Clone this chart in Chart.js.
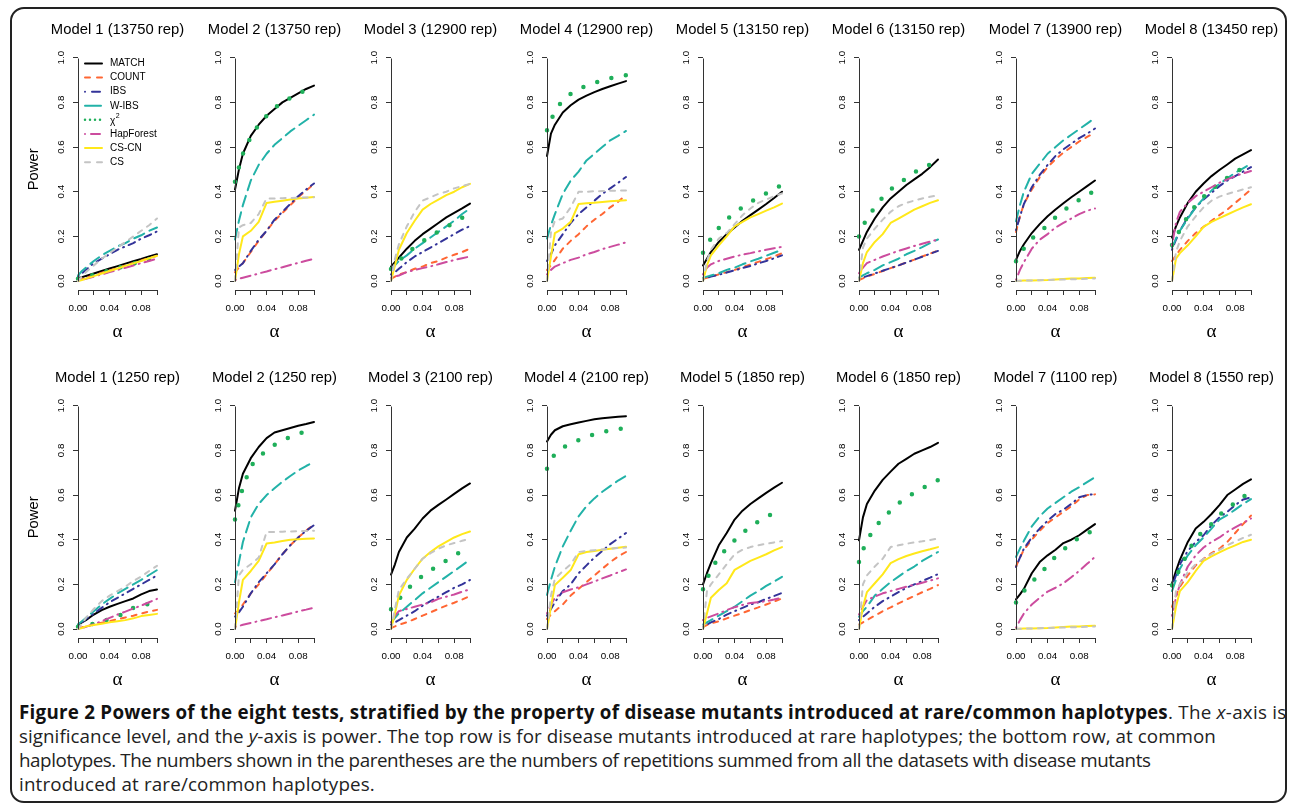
<!DOCTYPE html>
<html>
<head>
<meta charset="utf-8">
<script src="https://cdn.jsdelivr.net/npm/chart.js@4.4.1/dist/chart.umd.min.js"></script>
<style>
  body { margin: 0; background: #fff; width: 1290px; height: 807px; position: relative; overflow: hidden; }
  #frame { position: absolute; left: 10px; top: 7px; width: 1273px; height: 792px; border: 2px solid #222; border-radius: 14px; }
  canvas { position: absolute; }
  #caption { position: absolute; left: 19px; top: 700px; font-family: "Open Sans"; font-size: 18.8px; line-height: 24px; color: #222; white-space: nowrap; }
  #caption div { display: block; }
  #caption b { color: #111; }
</style>
</head>
<body>
<div id="frame"></div>
<div id="panels"></div>
<div id="caption">
<div style="letter-spacing:0.25px"><b>Figure 2 Powers of the eight tests, stratified by the property of disease mutants introduced at rare/common haplotypes</b>. The <i>x</i>-axis is</div>
<div style="letter-spacing:0.05px">significance level, and the <i>y</i>-axis is power. The top row is for disease mutants introduced at rare haplotypes; the bottom row, at common</div>
<div style="letter-spacing:-0.42px">haplotypes. The numbers shown in the parentheses are the numbers of repetitions summed from all the datasets with disease mutants</div>
<div style="letter-spacing:0.15px">introduced at rare/common haplotypes.</div>
</div>
<script>
// significance levels (x) shared by every curve
const alphas = [0, 0.005, 0.01, 0.02, 0.03, 0.04, 0.05, 0.06, 0.07, 0.08, 0.09, 0.1];
const methods = ["MATCH", "COUNT", "IBS", "W-IBS", "χ²", "HapForest", "CS-CN", "CS"];
const topReps = [13750, 13750, 12900, 12900, 13150, 13150, 13900, 13450];
const bottomReps = [1250, 1250, 2100, 2100, 1850, 1850, 1100, 1550];
const yTicks = [0, 0.2, 0.4, 0.6, 0.8, 1.0];
const xTicks = [0, 0.02, 0.04, 0.06, 0.08, 0.1];
const xLabels = ["0.00", "", "0.04", "", "0.08", ""];

/* top row: mutants at rare haplotypes, one inner array per model */
const matchTop = [
  [0.012, 0.017, 0.023, 0.034, 0.045, 0.056, 0.067, 0.078, 0.089, 0.099, 0.11, 0.12],
  [0.41, 0.50, 0.57, 0.65, 0.70, 0.74, 0.77, 0.80, 0.82, 0.84, 0.86, 0.875],
  [0.065, 0.085, 0.105, 0.145, 0.18, 0.21, 0.235, 0.26, 0.285, 0.305, 0.325, 0.347],
  [0.56, 0.66, 0.70, 0.755, 0.787, 0.812, 0.83, 0.846, 0.86, 0.872, 0.884, 0.895],
  [0.07, 0.10, 0.13, 0.175, 0.21, 0.24, 0.27, 0.295, 0.32, 0.345, 0.372, 0.40],
  [0.14, 0.18, 0.22, 0.28, 0.33, 0.37, 0.40, 0.43, 0.455, 0.48, 0.51, 0.544],
  [0.095, 0.135, 0.165, 0.215, 0.255, 0.29, 0.32, 0.348, 0.375, 0.40, 0.425, 0.45],
  [0.195, 0.245, 0.285, 0.35, 0.40, 0.437, 0.47, 0.497, 0.522, 0.548, 0.567, 0.586]
];
const countTop = [
  [0.005, 0.01, 0.015, 0.026, 0.037, 0.048, 0.059, 0.07, 0.081, 0.092, 0.103, 0.113],
  [0.04, 0.06, 0.08, 0.13, 0.18, 0.225, 0.27, 0.305, 0.34, 0.375, 0.405, 0.435],
  [0.01, 0.02, 0.03, 0.04, 0.055, 0.065, 0.08, 0.09, 0.105, 0.118, 0.13, 0.145],
  [0.05, 0.07, 0.095, 0.145, 0.18, 0.21, 0.245, 0.275, 0.30, 0.33, 0.355, 0.385],
  [0.01, 0.015, 0.02, 0.03, 0.04, 0.05, 0.062, 0.074, 0.086, 0.098, 0.11, 0.125],
  [0.005, 0.012, 0.02, 0.032, 0.045, 0.058, 0.07, 0.083, 0.096, 0.11, 0.123, 0.137],
  [0.22, 0.29, 0.345, 0.41, 0.465, 0.51, 0.545, 0.575, 0.60, 0.625, 0.645, 0.665],
  [0.09, 0.115, 0.14, 0.18, 0.215, 0.243, 0.27, 0.295, 0.32, 0.35, 0.38, 0.41]
];
const ibsTop = [
  [0.02, 0.035, 0.05, 0.08, 0.10, 0.12, 0.14, 0.155, 0.17, 0.19, 0.205, 0.222],
  [0.05, 0.065, 0.08, 0.135, 0.185, 0.225, 0.275, 0.31, 0.345, 0.38, 0.41, 0.437],
  [0.03, 0.04, 0.055, 0.085, 0.11, 0.13, 0.15, 0.17, 0.19, 0.21, 0.23, 0.246],
  [0.09, 0.12, 0.16, 0.21, 0.26, 0.30, 0.33, 0.36, 0.39, 0.415, 0.44, 0.466],
  [0.01, 0.015, 0.02, 0.028, 0.038, 0.048, 0.058, 0.068, 0.079, 0.09, 0.102, 0.115],
  [0.01, 0.016, 0.022, 0.034, 0.046, 0.058, 0.07, 0.083, 0.096, 0.109, 0.122, 0.135],
  [0.228, 0.29, 0.345, 0.42, 0.475, 0.52, 0.56, 0.59, 0.615, 0.64, 0.66, 0.683],
  [0.14, 0.185, 0.225, 0.285, 0.33, 0.365, 0.395, 0.425, 0.45, 0.47, 0.49, 0.51]
];
const wibsTop = [
  [0.025, 0.045, 0.06, 0.09, 0.115, 0.135, 0.155, 0.17, 0.19, 0.205, 0.225, 0.24],
  [0.186, 0.27, 0.34, 0.45, 0.52, 0.57, 0.61, 0.64, 0.67, 0.695, 0.72, 0.745],
  [0.05, 0.07, 0.09, 0.115, 0.145, 0.17, 0.195, 0.22, 0.245, 0.27, 0.30, 0.325],
  [0.19, 0.25, 0.30, 0.39, 0.45, 0.49, 0.54, 0.57, 0.60, 0.63, 0.65, 0.672],
  [0.015, 0.02, 0.025, 0.035, 0.05, 0.06, 0.075, 0.088, 0.10, 0.113, 0.127, 0.14],
  [0.015, 0.025, 0.035, 0.05, 0.07, 0.085, 0.10, 0.12, 0.135, 0.152, 0.17, 0.186],
  [0.268, 0.34, 0.40, 0.48, 0.525, 0.57, 0.60, 0.63, 0.655, 0.68, 0.705, 0.73],
  [0.15, 0.19, 0.225, 0.28, 0.33, 0.37, 0.405, 0.435, 0.46, 0.485, 0.505, 0.525]
];
const chiTop = [
  [0.01, 0.014, 0.018, 0.028, 0.038, 0.048, 0.058, 0.068, 0.078, 0.088, 0.098, 0.108],
  [0.445, 0.51, 0.57, 0.645, 0.70, 0.74, 0.775, 0.80, 0.82, 0.84, 0.855, 0.865],
  [0.054, 0.07, 0.09, 0.125, 0.152, 0.178, 0.20, 0.222, 0.242, 0.262, 0.283, 0.30],
  [0.675, 0.72, 0.76, 0.81, 0.838, 0.86, 0.874, 0.887, 0.898, 0.908, 0.915, 0.921],
  [0.127, 0.16, 0.19, 0.238, 0.275, 0.305, 0.33, 0.353, 0.374, 0.393, 0.412, 0.43],
  [0.20, 0.245, 0.28, 0.33, 0.375, 0.41, 0.437, 0.46, 0.486, 0.505, 0.522, 0.535],
  [0.089, 0.12, 0.146, 0.19, 0.22, 0.25, 0.285, 0.315, 0.34, 0.363, 0.385, 0.405],
  [0.161, 0.19, 0.23, 0.29, 0.34, 0.377, 0.41, 0.435, 0.463, 0.485, 0.508, 0.529]
];
const hapTop = [
  [0.002, 0.006, 0.01, 0.02, 0.03, 0.04, 0.05, 0.06, 0.07, 0.08, 0.09, 0.10],
  [0.005, 0.01, 0.015, 0.024, 0.034, 0.043, 0.053, 0.062, 0.072, 0.081, 0.091, 0.10],
  [0.015, 0.02, 0.025, 0.04, 0.05, 0.058, 0.066, 0.075, 0.085, 0.094, 0.102, 0.11],
  [0.03, 0.05, 0.065, 0.08, 0.095, 0.105, 0.12, 0.13, 0.143, 0.153, 0.163, 0.173],
  [0.03, 0.06, 0.075, 0.09, 0.10, 0.11, 0.118, 0.125, 0.133, 0.14, 0.147, 0.153],
  [0.035, 0.06, 0.08, 0.095, 0.11, 0.123, 0.135, 0.146, 0.157, 0.167, 0.177, 0.186],
  [0.005, 0.05, 0.085, 0.145, 0.185, 0.21, 0.24, 0.26, 0.28, 0.30, 0.315, 0.325],
  [0.16, 0.26, 0.31, 0.35, 0.38, 0.40, 0.42, 0.44, 0.455, 0.47, 0.482, 0.493]
];
const cscnTop = [
  [0, 0.005, 0.011, 0.022, 0.034, 0.045, 0.056, 0.068, 0.079, 0.09, 0.102, 0.113],
  [0, 0.12, 0.20, 0.225, 0.265, 0.35, 0.355, 0.36, 0.365, 0.37, 0.373, 0.376],
  [0, 0.07, 0.14, 0.215, 0.27, 0.32, 0.345, 0.365, 0.385, 0.40, 0.42, 0.435],
  [0, 0.11, 0.215, 0.235, 0.265, 0.345, 0.348, 0.351, 0.354, 0.357, 0.36, 0.362],
  [0, 0.07, 0.115, 0.16, 0.20, 0.245, 0.265, 0.285, 0.30, 0.315, 0.33, 0.347],
  [0, 0.08, 0.13, 0.175, 0.21, 0.26, 0.28, 0.30, 0.32, 0.335, 0.35, 0.362],
  [0, 0.001, 0.002, 0.003, 0.004, 0.005, 0.007, 0.009, 0.011, 0.012, 0.014, 0.015],
  [0, 0.10, 0.125, 0.16, 0.20, 0.243, 0.265, 0.282, 0.298, 0.314, 0.33, 0.344]
];
const csTop = [
  [0, 0.02, 0.04, 0.07, 0.10, 0.125, 0.15, 0.175, 0.20, 0.225, 0.25, 0.28],
  [0, 0.24, 0.25, 0.26, 0.30, 0.37, 0.37, 0.371, 0.372, 0.373, 0.374, 0.375],
  [0, 0.10, 0.165, 0.245, 0.31, 0.36, 0.375, 0.39, 0.40, 0.415, 0.425, 0.435],
  [0, 0.22, 0.27, 0.28, 0.33, 0.40, 0.40, 0.402, 0.403, 0.404, 0.405, 0.405],
  [0, 0.09, 0.14, 0.19, 0.215, 0.255, 0.295, 0.325, 0.35, 0.365, 0.38, 0.392],
  [0, 0.15, 0.19, 0.235, 0.275, 0.31, 0.335, 0.35, 0.36, 0.37, 0.377, 0.384],
  [0, 0.001, 0.002, 0.003, 0.004, 0.005, 0.006, 0.007, 0.008, 0.009, 0.01, 0.012],
  [0, 0.13, 0.18, 0.245, 0.29, 0.33, 0.36, 0.378, 0.39, 0.40, 0.41, 0.42]
];

/* bottom row: mutants at common haplotypes */
const matchBot = [
  [0.02, 0.03, 0.04, 0.065, 0.085, 0.10, 0.113, 0.125, 0.137, 0.155, 0.17, 0.177],
  [0.53, 0.63, 0.695, 0.765, 0.815, 0.855, 0.88, 0.89, 0.90, 0.91, 0.918, 0.927],
  [0.244, 0.29, 0.345, 0.41, 0.45, 0.495, 0.53, 0.556, 0.58, 0.605, 0.63, 0.652],
  [0.84, 0.87, 0.89, 0.908, 0.917, 0.925, 0.932, 0.939, 0.944, 0.947, 0.95, 0.953],
  [0.2, 0.25, 0.295, 0.375, 0.43, 0.49, 0.53, 0.56, 0.585, 0.61, 0.633, 0.655],
  [0.397, 0.5, 0.56, 0.62, 0.668, 0.705, 0.74, 0.762, 0.785, 0.80, 0.815, 0.834],
  [0.133, 0.155, 0.18, 0.25, 0.30, 0.33, 0.355, 0.385, 0.40, 0.42, 0.445, 0.47],
  [0.204, 0.26, 0.31, 0.39, 0.45, 0.48, 0.515, 0.555, 0.60, 0.625, 0.65, 0.67]
];
const countBot = [
  [0.005, 0.008, 0.012, 0.02, 0.028, 0.036, 0.044, 0.052, 0.06, 0.07, 0.078, 0.086],
  [0.07, 0.085, 0.11, 0.16, 0.20, 0.245, 0.29, 0.335, 0.375, 0.41, 0.44, 0.47],
  [0.005, 0.012, 0.02, 0.03, 0.045, 0.06, 0.075, 0.09, 0.105, 0.118, 0.132, 0.148],
  [0.045, 0.065, 0.08, 0.11, 0.15, 0.18, 0.21, 0.24, 0.27, 0.30, 0.325, 0.345],
  [0.01, 0.018, 0.025, 0.035, 0.048, 0.06, 0.072, 0.085, 0.097, 0.11, 0.123, 0.137],
  [0.02, 0.03, 0.04, 0.06, 0.08, 0.097, 0.115, 0.132, 0.148, 0.165, 0.18, 0.197],
  [0.28, 0.32, 0.355, 0.40, 0.44, 0.475, 0.50, 0.525, 0.55, 0.58, 0.60, 0.603],
  [0.10, 0.15, 0.19, 0.24, 0.285, 0.315, 0.34, 0.36, 0.39, 0.43, 0.47, 0.508]
];
const ibsBot = [
  [0.015, 0.03, 0.045, 0.07, 0.095, 0.12, 0.14, 0.16, 0.18, 0.20, 0.22, 0.24],
  [0.056, 0.075, 0.10, 0.16, 0.21, 0.25, 0.29, 0.335, 0.375, 0.41, 0.44, 0.465],
  [0.02, 0.03, 0.04, 0.06, 0.08, 0.105, 0.125, 0.145, 0.165, 0.185, 0.20, 0.22],
  [0.06, 0.09, 0.12, 0.17, 0.20, 0.25, 0.285, 0.32, 0.35, 0.38, 0.405, 0.43],
  [0.01, 0.02, 0.03, 0.045, 0.065, 0.08, 0.095, 0.11, 0.12, 0.135, 0.148, 0.162],
  [0.04, 0.055, 0.07, 0.10, 0.125, 0.145, 0.165, 0.185, 0.20, 0.215, 0.23, 0.246],
  [0.278, 0.32, 0.36, 0.41, 0.45, 0.485, 0.515, 0.535, 0.56, 0.59, 0.60, 0.605],
  [0.19, 0.24, 0.29, 0.35, 0.39, 0.42, 0.465, 0.50, 0.525, 0.555, 0.58, 0.59]
];
const wibsBot = [
  [0.02, 0.035, 0.05, 0.08, 0.11, 0.135, 0.16, 0.18, 0.20, 0.22, 0.242, 0.264],
  [0.21, 0.30, 0.39, 0.50, 0.56, 0.60, 0.63, 0.66, 0.685, 0.71, 0.73, 0.748],
  [0.03, 0.05, 0.07, 0.10, 0.13, 0.16, 0.185, 0.21, 0.235, 0.26, 0.285, 0.311],
  [0.153, 0.22, 0.28, 0.37, 0.44, 0.505, 0.55, 0.585, 0.615, 0.64, 0.665, 0.686],
  [0.02, 0.03, 0.04, 0.06, 0.08, 0.10, 0.125, 0.15, 0.17, 0.193, 0.213, 0.234],
  [0.055, 0.08, 0.10, 0.15, 0.18, 0.21, 0.235, 0.26, 0.28, 0.305, 0.325, 0.345],
  [0.323, 0.36, 0.395, 0.46, 0.505, 0.54, 0.565, 0.59, 0.615, 0.635, 0.658, 0.68],
  [0.17, 0.22, 0.27, 0.33, 0.375, 0.41, 0.45, 0.49, 0.51, 0.535, 0.56, 0.582]
];
const chiBot = [
  [0.01, 0.013, 0.016, 0.024, 0.035, 0.045, 0.058, 0.07, 0.095, 0.105, 0.113, 0.118],
  [0.49, 0.565, 0.635, 0.73, 0.77, 0.80, 0.825, 0.845, 0.86, 0.873, 0.886, 0.897],
  [0.089, 0.11, 0.133, 0.175, 0.21, 0.238, 0.263, 0.285, 0.307, 0.328, 0.35, 0.372],
  [0.718, 0.755, 0.785, 0.812, 0.83, 0.846, 0.86, 0.872, 0.882, 0.889, 0.896, 0.90],
  [0.178, 0.225, 0.262, 0.325, 0.36, 0.397, 0.43, 0.458, 0.482, 0.503, 0.52, 0.535],
  [0.30, 0.355, 0.395, 0.455, 0.495, 0.53, 0.562, 0.588, 0.61, 0.63, 0.648, 0.667],
  [0.119, 0.145, 0.17, 0.21, 0.245, 0.285, 0.325, 0.355, 0.385, 0.41, 0.43, 0.44],
  [0.196, 0.235, 0.27, 0.345, 0.405, 0.44, 0.47, 0.51, 0.54, 0.565, 0.595, 0.60]
];
const hapBot = [
  [0, 0.005, 0.01, 0.022, 0.035, 0.05, 0.065, 0.078, 0.092, 0.105, 0.12, 0.135],
  [0.01, 0.014, 0.019, 0.027, 0.036, 0.044, 0.053, 0.061, 0.07, 0.079, 0.087, 0.096],
  [0.03, 0.06, 0.08, 0.09, 0.10, 0.11, 0.12, 0.135, 0.145, 0.155, 0.167, 0.178],
  [0.07, 0.11, 0.14, 0.165, 0.177, 0.187, 0.20, 0.213, 0.227, 0.24, 0.254, 0.267],
  [0.04, 0.05, 0.057, 0.07, 0.085, 0.098, 0.108, 0.117, 0.12, 0.125, 0.132, 0.14],
  [0.065, 0.10, 0.13, 0.145, 0.16, 0.17, 0.18, 0.19, 0.198, 0.207, 0.217, 0.227],
  [0.005, 0.04, 0.07, 0.11, 0.14, 0.168, 0.185, 0.205, 0.232, 0.26, 0.292, 0.323],
  [0.06, 0.14, 0.20, 0.28, 0.33, 0.365, 0.39, 0.41, 0.435, 0.455, 0.475, 0.495]
];
const cscnBot = [
  [0, 0.005, 0.012, 0.018, 0.024, 0.03, 0.035, 0.04, 0.048, 0.058, 0.063, 0.068],
  [0, 0.12, 0.22, 0.26, 0.305, 0.383, 0.388, 0.394, 0.40, 0.402, 0.404, 0.406],
  [0, 0.07, 0.15, 0.22, 0.27, 0.315, 0.345, 0.37, 0.39, 0.41, 0.425, 0.437],
  [0, 0.1, 0.197, 0.23, 0.264, 0.335, 0.345, 0.35, 0.355, 0.36, 0.364, 0.368],
  [0, 0.07, 0.14, 0.175, 0.205, 0.265, 0.285, 0.305, 0.32, 0.335, 0.352, 0.367],
  [0, 0.1, 0.165, 0.205, 0.245, 0.295, 0.313, 0.327, 0.338, 0.348, 0.357, 0.367],
  [0, 0.001, 0.002, 0.003, 0.004, 0.005, 0.007, 0.009, 0.011, 0.012, 0.014, 0.015],
  [0, 0.10, 0.17, 0.21, 0.26, 0.305, 0.325, 0.343, 0.36, 0.375, 0.39, 0.40]
];
const csBot = [
  [0, 0.025, 0.05, 0.09, 0.125, 0.15, 0.17, 0.19, 0.215, 0.235, 0.26, 0.283],
  [0, 0.24, 0.265, 0.29, 0.32, 0.435, 0.435, 0.436, 0.437, 0.438, 0.439, 0.44],
  [0, 0.09, 0.175, 0.225, 0.27, 0.315, 0.34, 0.36, 0.375, 0.385, 0.395, 0.404],
  [0, 0.15, 0.225, 0.26, 0.29, 0.345, 0.35, 0.353, 0.356, 0.36, 0.363, 0.365],
  [0, 0.17, 0.2, 0.245, 0.29, 0.335, 0.355, 0.367, 0.375, 0.382, 0.388, 0.394],
  [0, 0.2, 0.24, 0.28, 0.315, 0.367, 0.375, 0.382, 0.388, 0.393, 0.399, 0.405],
  [0, 0.001, 0.002, 0.003, 0.004, 0.005, 0.006, 0.007, 0.008, 0.009, 0.01, 0.012],
  [0, 0.17, 0.2, 0.255, 0.29, 0.315, 0.335, 0.355, 0.375, 0.392, 0.408, 0.422]
];

// line styles, one per method
const colors = ["#000000", "#FF6633", "#333399", "#22B2A8", "#1FAF5A", "#CC4C9E", "#FFE81A", "#C4C4C4"];
const widths = [2, 2, 2, 2, 4.5, 2, 2, 2];
const dashes = [[], [5, 6], [1, 5, 7, 5], [11, 6], [0, 14.7], [1, 5, 10, 5], [], [5, 6]];
const legendDashes = [[], [5, 7], [0, 7, 8, 7], [16, 6], [0, 5], [0, 6, 9, 6], [], [5, 7]];

const axisX = [78, 235, 391, 547, 703, 859, 1016, 1172];
const rows = [
  { reps: topReps, top: 10, series: [matchTop, countTop, ibsTop, wibsTop, chiTop, hapTop, cscnTop, csTop] },
  { reps: bottomReps, top: 358, series: [matchBot, countBot, ibsBot, wibsBot, chiBot, hapBot, cscnBot, csBot] }
];

const sans = "Liberation Sans";
const axisColor = "#333";

// R draws the y axis only from the first to the last tick
const yAxisLine = {
  id: "yAxisLine",
  afterDraw(chart) {
    const ys = chart.scales.y;
    const ctx = chart.ctx;
    const x = Math.round(chart.chartArea.left) + 0.5;
    ctx.save();
    ctx.strokeStyle = axisColor;
    ctx.lineWidth = 1;
    ctx.beginPath();
    ctx.moveTo(x, Math.round(ys.getPixelForValue(yTicks[0])) + 0.5);
    ctx.lineTo(x, Math.round(ys.getPixelForValue(yTicks[yTicks.length - 1])) + 0.5);
    ctx.stroke();
    ctx.restore();
  }
};

// legend box in the first panel
const legendBox = {
  id: "legendBox",
  afterDraw(chart) {
    const ctx = chart.ctx;
    const a = chart.chartArea;
    ctx.save();
    chart.data.datasets.forEach((ds, i) => {
      const y = a.top + 14.7 + i * 14.1;
      ctx.strokeStyle = ds.borderColor;
      ctx.lineWidth = i === 4 ? 2.5 : ds.borderWidth;
      ctx.lineCap = "round";
      ctx.setLineDash(legendDashes[i]);
      ctx.beginPath();
      ctx.moveTo(a.left + 7, y);
      ctx.lineTo(a.left + 24, y);
      ctx.stroke();
      ctx.setLineDash([]);
      ctx.fillStyle = "#000";
      ctx.textBaseline = "middle";
      ctx.font = "10px '" + sans + "'";
      if (i === 4) {
        ctx.fillText("χ", a.left + 32, y + 1);
        const w = ctx.measureText("χ").width;
        ctx.font = "7px '" + sans + "'";
        ctx.fillText("2", a.left + 32 + w + 0.5, y - 3.5);
      } else {
        ctx.fillText(ds.label, a.left + 32, y);
      }
    });
    ctx.restore();
  }
};

const panels = document.getElementById("panels");

rows.forEach((row, r) => {
  for (let p = 0; p < 8; p++) {
    const canvas = document.createElement("canvas");
    canvas.width = 219;
    canvas.height = 336;
    canvas.style.left = (axisX[p] - 70) + "px";
    canvas.style.top = row.top + "px";
    panels.appendChild(canvas);

    const datasets = row.series.map((s, i) => ({
      label: methods[i],
      data: alphas.map((a, k) => ({ x: a, y: s[p][k] })),
      borderColor: colors[i],
      borderWidth: widths[i],
      borderDash: dashes[i],
      borderCapStyle: "round",
      borderJoinStyle: "round",
      pointRadius: 0,
      tension: 0,
      fill: false,
      clip: false,
      order: 7 - i
    }));

    const plugins = [yAxisLine];
    if (r === 0 && p === 0) plugins.push(legendBox);

    new Chart(canvas, {
      type: "line",
      data: { datasets: datasets },
      options: {
        responsive: false,
        animation: false,
        devicePixelRatio: 1,
        layout: { padding: 0 },
        plugins: {
          legend: { display: false },
          tooltip: { enabled: false },
          title: {
            display: true,
            text: "Model " + (p + 1) + " (" + row.reps[p] + " rep)",
            color: "#000",
            font: { family: sans, size: 14.8, weight: "normal" },
            padding: { top: 11.4, bottom: 9.6 }
          }
        },
        scales: {
          x: {
            type: "linear",
            min: 0,
            max: 0.1,
            afterBuildTicks: (s) => { s.ticks = xTicks.map((v) => ({ value: v })); },
            afterFit: (s) => { s.height = 56; },
            ticks: {
              callback: (v, i) => xLabels[i],
              autoSkip: false,
              minRotation: 0,
              maxRotation: 0,
              padding: 7,
              color: "#000",
              font: { family: sans, size: 9.8 }
            },
            grid: { drawOnChartArea: false, drawTicks: true, tickLength: 5, color: axisColor },
            border: { display: true, color: axisColor, width: 1 },
            title: {
              display: true,
              text: "α",
              color: "#000",
              font: { family: "Liberation Serif", size: 19 },
              padding: { top: 0, bottom: 3 }
            }
          },
          y: {
            min: -0.04,
            max: 1.04,
            afterBuildTicks: (s) => { s.ticks = yTicks.map((v) => ({ value: v })); },
            afterFit: (s) => { s.width = 70; },
            ticks: {
              callback: (v) => v.toFixed(1),
              minRotation: 90,
              maxRotation: 90,
              crossAlign: "center",
              padding: 5.4,
              color: "#000",
              font: { family: sans, size: 9.8 }
            },
            grid: { drawOnChartArea: false, drawTicks: true, tickLength: 5, color: axisColor },
            border: { display: false },
            title: {
              display: p === 0,
              text: "Power",
              color: "#000",
              font: { family: sans, size: 14.8 },
              padding: { top: 16.6, bottom: 0 }
            }
          },
          // empty right margin so the panel title centres over the plot
          spacer: {
            type: "linear",
            position: "right",
            display: true,
            afterFit: (s) => { s.width = 70; },
            ticks: { display: false },
            grid: { display: false },
            border: { display: false }
          }
        }
      },
      plugins: plugins
    });
  }
});
</script>
</body>
</html>
